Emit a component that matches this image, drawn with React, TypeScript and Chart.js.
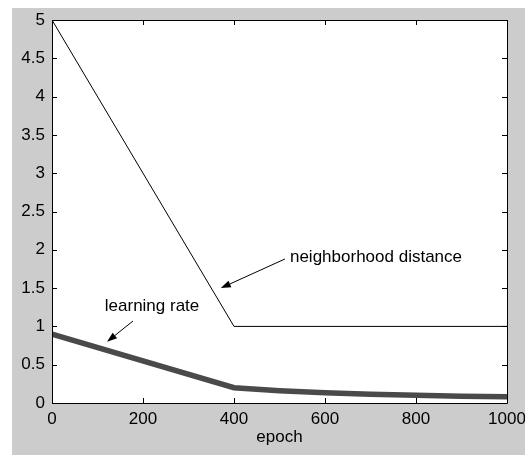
import React, { useEffect, useRef } from "react";
import { Chart, registerables } from "chart.js";

Chart.register(...registerables);

// ---- data ----
const distanceEpochs = [0, 400, 1000];
const distanceValues = [5, 1, 1];
const rateEpochs = [0, 400, 500, 600, 700, 800, 900, 1000];
const rateValues = [0.9, 0.2, 0.16, 0.133, 0.114, 0.1, 0.089, 0.08];
const xTickValues = [0, 200, 400, 600, 800, 1000];
const yTickValues = [0, 0.5, 1, 1.5, 2, 2.5, 3, 3.5, 4, 4.5, 5];
const xTitle = "epoch";
// annotation anchors, in data units: label at [x, y], arrow from [x, y] to [x, y]
const labelTexts = ["neighborhood distance", "learning rate"];
const labelAnchors = [
  [523, 1.84],
  [116, 1.195],
];
const arrowFrom = [
  [512, 1.88],
  [178, 1.07],
];
const arrowTo = [
  [371, 1.5],
  [121, 0.8],
];

const FONT = '"Liberation Sans", Arial, sans-serif';
const FONT_SIZE = 17;

const boxPlugin = {
  id: "matlabBox",
  afterDraw(chart: any) {
    const { ctx, chartArea } = chart;
    const xs = chart.scales.x;
    const ys = chart.scales.y;
    const { left, right, top, bottom } = chartArea;
    ctx.save();
    ctx.strokeStyle = "#000";
    ctx.lineWidth = 1;
    ctx.beginPath();
    ctx.rect(Math.round(left) + 0.5, Math.round(top) + 0.5, Math.round(right - left), Math.round(bottom - top));
    ctx.stroke();
    const tl = 5;
    ctx.beginPath();
    xTickValues.forEach((v) => {
      const px = Math.round(xs.getPixelForValue(v)) + 0.5;
      ctx.moveTo(px, bottom);
      ctx.lineTo(px, bottom - tl);
      ctx.moveTo(px, top);
      ctx.lineTo(px, top + tl);
    });
    yTickValues.forEach((v) => {
      const py = Math.round(ys.getPixelForValue(v)) + 0.5;
      ctx.moveTo(left, py);
      ctx.lineTo(left + tl, py);
      ctx.moveTo(right, py);
      ctx.lineTo(right - tl, py);
    });
    ctx.stroke();

    // annotations
    ctx.fillStyle = "#000";
    ctx.font = `${FONT_SIZE}px ${FONT}`;
    ctx.textAlign = "left";
    ctx.textBaseline = "alphabetic";
    labelTexts.forEach((t, i) => {
      ctx.fillText(t, xs.getPixelForValue(labelAnchors[i][0]), ys.getPixelForValue(labelAnchors[i][1]));
    });
    arrowFrom.forEach((f, i) => {
      const x1 = xs.getPixelForValue(f[0]);
      const y1 = ys.getPixelForValue(f[1]);
      const x2 = xs.getPixelForValue(arrowTo[i][0]);
      const y2 = ys.getPixelForValue(arrowTo[i][1]);
      const ang = Math.atan2(y2 - y1, x2 - x1);
      const hl = 10;
      const hw = 3.5;
      const bx = x2 - hl * Math.cos(ang);
      const by = y2 - hl * Math.sin(ang);
      ctx.beginPath();
      ctx.moveTo(x1, y1);
      ctx.lineTo(bx, by);
      ctx.stroke();
      ctx.beginPath();
      ctx.moveTo(x2, y2);
      ctx.lineTo(bx + hw * Math.sin(ang), by - hw * Math.cos(ang));
      ctx.lineTo(bx - hw * Math.sin(ang), by + hw * Math.cos(ang));
      ctx.closePath();
      ctx.fill();
    });
    ctx.restore();
  },
};

const whiteArea = {
  id: "whiteArea",
  beforeDraw(chart: any) {
    const { ctx, chartArea } = chart;
    ctx.save();
    ctx.fillStyle = "#ffffff";
    ctx.fillRect(chartArea.left, chartArea.top, chartArea.right - chartArea.left, chartArea.bottom - chartArea.top);
    ctx.restore();
  },
};

export default function App() {
  const ref = useRef<HTMLCanvasElement | null>(null);
  useEffect(() => {
    if (!ref.current) return;
    const chart = new Chart(ref.current, {
      type: "line",
      data: {
        datasets: [
          {
            label: "neighborhood distance",
            data: distanceEpochs.map((x, i) => ({ x, y: distanceValues[i] })),
            borderColor: "#000000",
            borderWidth: 1,
            pointRadius: 0,
            tension: 0,
          },
          {
            label: "learning rate",
            data: rateEpochs.map((x, i) => ({ x, y: rateValues[i] })),
            borderColor: "#4a4a4a",
            borderWidth: 5.5,
            pointRadius: 0,
            tension: 0,
          },
        ],
      },
      options: {
        animation: false,
        responsive: false,
        devicePixelRatio: 1,
        layout: { padding: { left: 0, right: 18, top: 12, bottom: 0 } },
        plugins: { legend: { display: false }, tooltip: { enabled: false } },
        scales: {
          x: {
            type: "linear",
            min: 0,
            max: 1000,
            grid: { display: false, drawTicks: false },
            border: { display: false },
            afterBuildTicks: (s: any) => {
              s.ticks = xTickValues.map((v) => ({ value: v }));
            },
            afterFit: (s: any) => {
              s.height = 52;
              s.paddingLeft = 0;
              s.paddingRight = 0;
            },
            ticks: {
              color: "#000",
              padding: 6,
              maxRotation: 0,
              autoSkip: false,
              font: { family: FONT, size: FONT_SIZE },
              callback: (v: any) => String(v),
            },
            title: {
              display: true,
              text: xTitle,
              color: "#000",
              font: { family: FONT, size: FONT_SIZE },
              padding: { top: 0, bottom: 7 },
            },
          },
          y: {
            type: "linear",
            min: 0,
            max: 5,
            grid: { display: false, drawTicks: false },
            border: { display: false },
            afterBuildTicks: (s: any) => {
              s.ticks = yTickValues.map((v) => ({ value: v }));
            },
            afterFit: (s: any) => {
              s.width = 40;
              s.paddingTop = 0;
              s.paddingBottom = 0;
            },
            ticks: {
              color: "#000",
              padding: 7,
              autoSkip: false,
              font: { family: FONT, size: FONT_SIZE },
              callback: (v: any) => String(v),
            },
          },
        },
      },
      plugins: [whiteArea, boxPlugin],
    });
    return () => chart.destroy();
  }, []);
  return (
    <div style={{ position: "fixed", left: 12, top: 8, width: 513, height: 447, background: "#cccccc" }}>
      <canvas ref={ref} width={513} height={447} style={{ display: "block", width: 513, height: 447 }} />
    </div>
  );
}
